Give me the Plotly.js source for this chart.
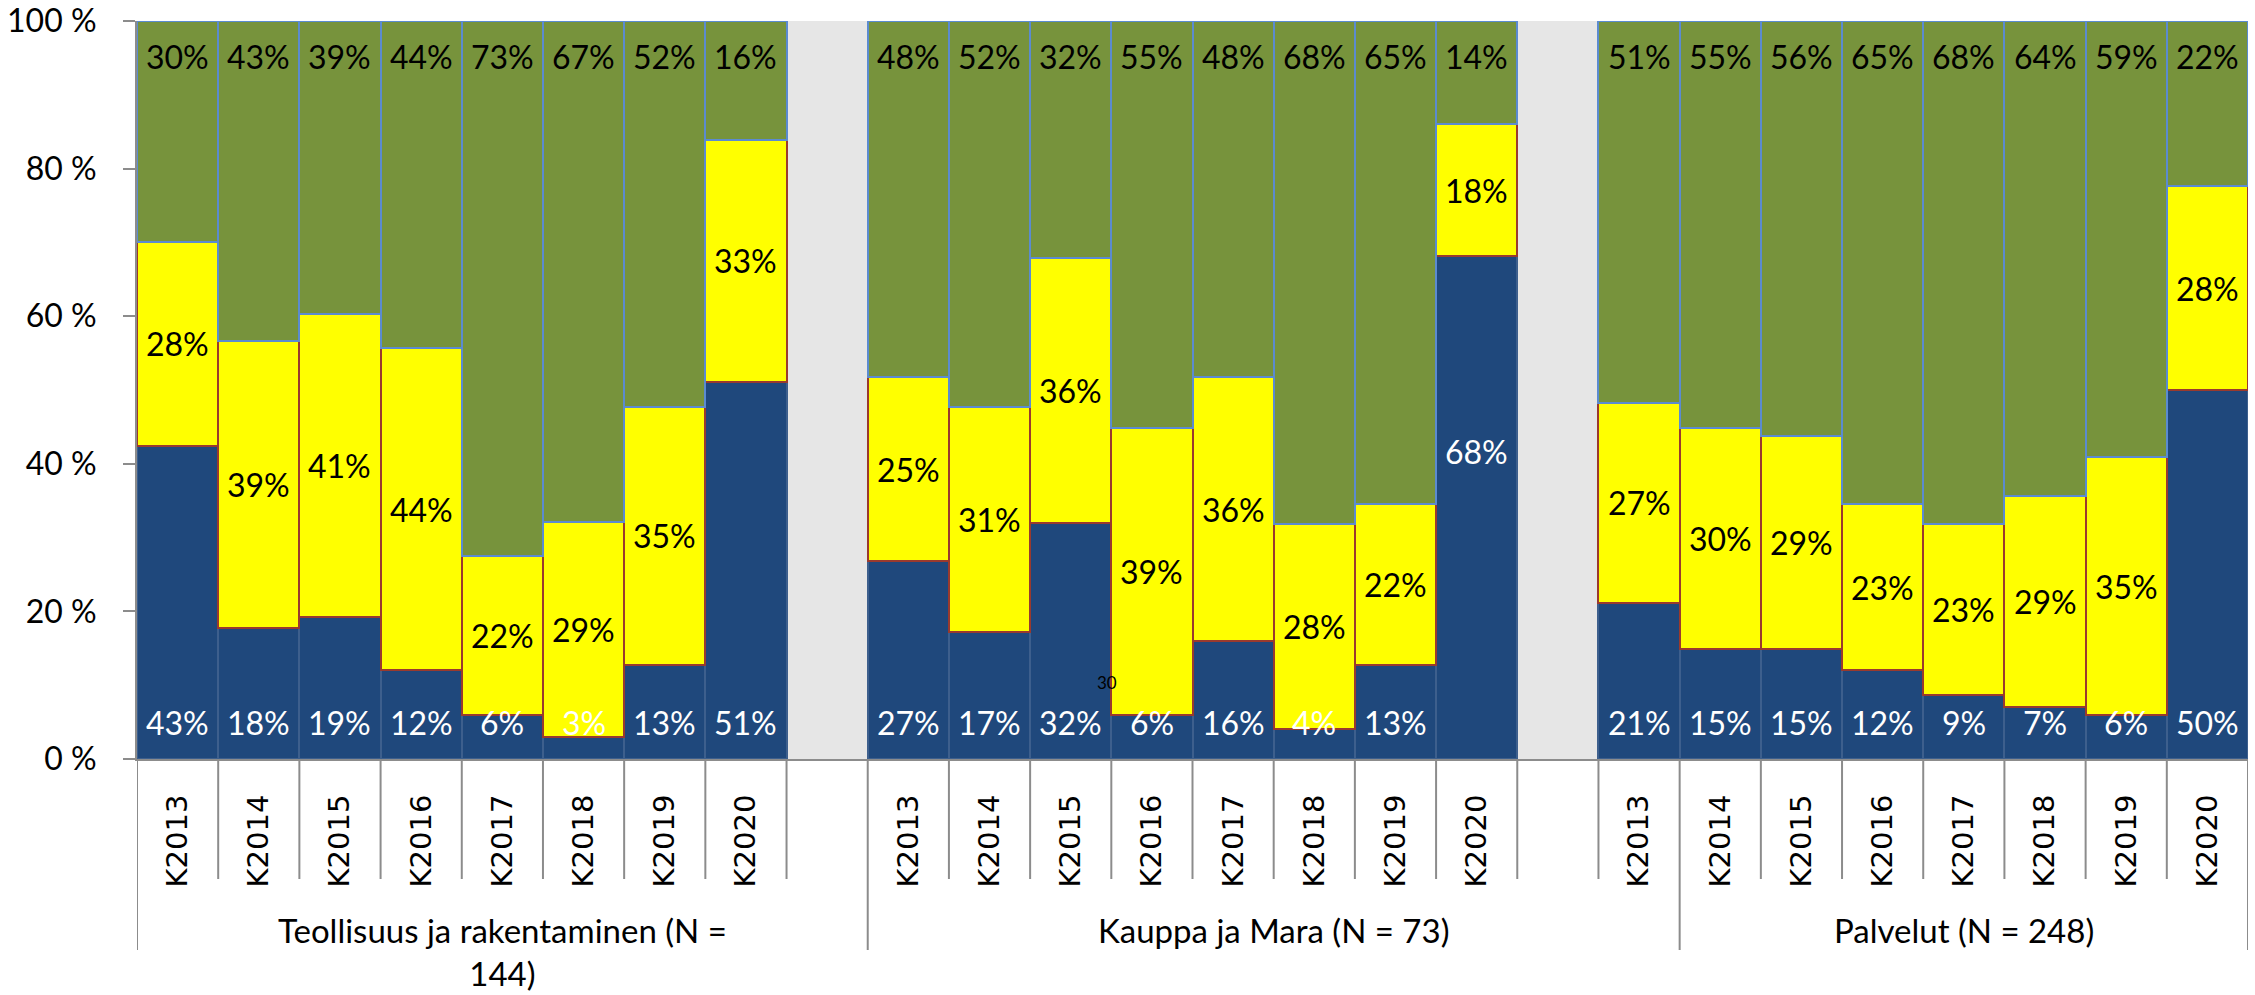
<!DOCTYPE html>
<html>
<head>
<meta charset="utf-8">
<script src="https://cdn.plot.ly/plotly-3.0.1.min.js"></script>
<style>html,body{margin:0;padding:0;background:#fff;}#chart{width:2255px;height:995px;}</style>
</head>
<body>
<div id="chart"></div>
<script>
// ---- data ----
const years = ['K2013','K2014','K2015','K2016','K2017','K2018','K2019','K2020'];
const groupNames = ['Teollisuus ja rakentaminen (N =<br>144)', 'Kauppa ja Mara (N = 73)', 'Palvelut (N = 248)'];
// category span of each group label on the lower axis level (category indices)
const groupSpanStart = [0, 9, 19];
const groupSpanEnd = [8, 18, 25];

const blueValues = [42.4, 17.8, 19.3, 12.0, 5.9, 3.0, 12.8, 51.1,
                    26.8, 17.2, 32.0, 5.9, 16.0, 4.1, 12.8, 68.1,
                    21.1, 14.9, 14.9, 12.0, 8.7, 7.0, 5.9, 50.0];
const yellowValues = [27.7, 38.9, 41.0, 43.7, 21.6, 29.1, 34.9, 32.8,
                      24.9, 30.5, 35.9, 38.9, 35.7, 27.7, 21.8, 17.9,
                      27.2, 29.9, 28.8, 22.6, 23.1, 28.7, 35.0, 27.6];
const greenValues = [29.9, 43.3, 39.7, 44.3, 72.5, 67.9, 52.3, 16.1,
                     48.3, 52.3, 32.1, 55.2, 48.3, 68.2, 65.4, 14.0,
                     51.7, 55.2, 56.3, 65.4, 68.2, 64.3, 59.1, 22.4];

const blueLabels = ['43%','18%','19%','12%','6%','3%','13%','51%',
                    '27%','17%','32%','6%','16%','4%','13%','68%',
                    '21%','15%','15%','12%','9%','7%','6%','50%'];
const yellowLabels = ['28%','39%','41%','44%','22%','29%','35%','33%',
                      '25%','31%','36%','39%','36%','28%','22%','18%',
                      '27%','30%','29%','23%','23%','29%','35%','28%'];
const greenLabels = ['30%','43%','39%','44%','73%','67%','52%','16%',
                     '48%','52%','32%','55%','48%','68%','65%','14%',
                     '51%','55%','56%','65%','68%','64%','59%','22%'];
const yTicks = [0, 20, 40, 60, 80, 100];
const strayLabel = {text: '30', x: 11.45, y: 10.3};
const movedBlueLabel = {index: 15, y: 41.7};

// ---- layout helpers ----
const nGroups = groupNames.length;
const slot = years.length + 1;
const xIdx = [], xText = [];
for (let g = 0; g < nGroups; g++) {
  for (let j = 0; j < years.length; j++) { xIdx.push(g * slot + j); xText.push(years[j]); }
}
const nCats = (nGroups - 1) * slot + years.length;

const FONT = 'Lato, "Liberation Sans", Arial, sans-serif';
const LBL = 32;
const W = 2255, H = 995, ML = 137, MR = 7, MT = 21, MB = 236;
const plotH = H - MT - MB;
const px2paper = (px) => -px / plotH; // px below the x axis -> paper y

const traces = [
  {name: 'blue', y: blueValues, color: '#1f487c', line: '#3d5f8d'},
  {name: 'yellow', y: yellowValues, color: '#ffff00', line: '#9a3a2e'},
  {name: 'green', y: greenValues, color: '#77933c', line: '#5b8bd0'}
].map(s => ({
  type: 'bar', x: xIdx, y: s.y, name: s.name, width: 1,
  marker: {color: s.color, line: {color: s.line, width: 2}},
  hoverinfo: 'skip', showlegend: false
}));

const annotations = [];
for (let i = 0; i < xIdx.length; i++) {
  const isMoved = i === movedBlueLabel.index;
  annotations.push({x: xIdx[i], y: isMoved ? movedBlueLabel.y : 0, yshift: isMoved ? 0 : 37,
    xref: 'x', yref: 'y', text: blueLabels[i], showarrow: false, yanchor: 'middle',
    font: {family: FONT, size: LBL, color: '#ffffff'}});
  annotations.push({x: xIdx[i], y: blueValues[i] + yellowValues[i] / 2,
    xref: 'x', yref: 'y', text: yellowLabels[i], showarrow: false, yanchor: 'middle',
    font: {family: FONT, size: LBL, color: '#000000'}});
  annotations.push({x: xIdx[i], y: 100, yshift: -35,
    xref: 'x', yref: 'y', text: greenLabels[i], showarrow: false, yanchor: 'middle',
    font: {family: FONT, size: LBL, color: '#000000'}});
}
annotations.push({x: strayLabel.x, y: strayLabel.y, xref: 'x', yref: 'y', text: strayLabel.text,
  showarrow: false, font: {family: FONT, size: 17, color: '#000'}});
for (let g = 0; g < nGroups; g++) {
  annotations.push({x: (groupSpanStart[g] + groupSpanEnd[g]) / 2, y: px2paper(149),
    xref: 'x', yref: 'paper', yanchor: 'top', text: groupNames[g], showarrow: false,
    font: {family: FONT, size: 33, color: '#000'}});
}

const shapes = [];
for (let b = 0; b <= nCats; b++) {
  shapes.push({type: 'line', xref: 'x', yref: 'paper', x0: b - 0.5, x1: b - 0.5,
    y0: 0, y1: px2paper(120), line: {color: '#8c8c8c', width: 2}});
}
const lvl2 = [groupSpanStart[0] - 0.5].concat(groupSpanEnd.map(e => e + 0.5));
lvl2.forEach(xb => shapes.push({type: 'line', xref: 'x', yref: 'paper', x0: xb, x1: xb,
  y0: px2paper(120), y1: px2paper(191), line: {color: '#8c8c8c', width: 2}}));

const layout = {
  width: W, height: H,
  margin: {l: ML, r: MR, t: MT, b: MB, pad: 0},
  paper_bgcolor: '#ffffff', plot_bgcolor: '#e6e6e6',
  barmode: 'stack', bargap: 0, showlegend: false,
  font: {family: FONT, size: LBL, color: '#000'},
  xaxis: {range: [-0.5, nCats - 0.5], tickmode: 'array', tickvals: xIdx, ticktext: xText,
    tickangle: -90, ticks: '', ticklabelstandoff: 22, showgrid: false, zeroline: false,
    showline: true, linecolor: '#8c8c8c', linewidth: 2, automargin: false, fixedrange: true,
    tickfont: {family: '"DejaVu Sans", Verdana, sans-serif', size: 29, color: '#000'}},
  yaxis: {range: [0, 100], tickmode: 'array', tickvals: yTicks, ticktext: yTicks.map(v => v + ' %'),
    ticks: 'outside', ticklen: 12, tickwidth: 2, tickcolor: '#8c8c8c', ticklabelstandoff: 20,
    showgrid: false, zeroline: false, showline: true, linecolor: '#8c8c8c', linewidth: 2,
    automargin: false, fixedrange: true,
    tickfont: {family: FONT, size: LBL, color: '#000'}},
  annotations: annotations, shapes: shapes
};

Plotly.newPlot('chart', traces, layout, {displayModeBar: false, staticPlot: true});
</script>
</body>
</html>
